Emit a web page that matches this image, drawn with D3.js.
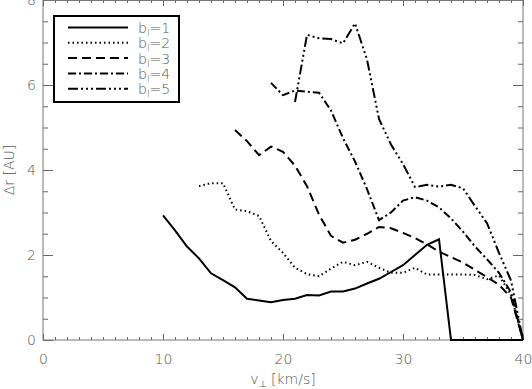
<!DOCTYPE html>
<html>
<head>
<meta charset="utf-8">
<script src="https://cdn.jsdelivr.net/npm/d3@7"></script>
<style>
  body { margin: 0; background: #fff; }
  svg { display: block; }
  .tick text { font-family: "DejaVu Sans", sans-serif; font-weight: 200; fill: #555; font-size: 14px; }
  .lbl { font-family: "DejaVu Sans", sans-serif; font-weight: 200; fill: #555; font-size: 14px; }
</style>
</head>
<body>
<svg width="532" height="389"></svg>
<script>
// v_perp [km/s] and delta r [AU], one pair of arrays per b value
const v1 = [10, 11, 12, 13, 14, 15, 16, 17, 18, 19, 20, 21, 22, 23, 24, 25, 26, 27, 28, 29, 30, 31, 32, 33, 34, 35, 36, 37, 38, 39, 40];
const dr1 = [2.93, 2.58, 2.2, 1.92, 1.57, 1.41, 1.24, 0.97, 0.93, 0.89, 0.94, 0.97, 1.06, 1.05, 1.14, 1.14, 1.21, 1.33, 1.44, 1.6, 1.76, 2.0, 2.24, 2.37, 0, 0, 0, 0, 0, 0, 0];

const v2 = [13, 14, 15, 16, 17, 18, 19, 20, 21, 22, 23, 24, 25, 26, 27, 28, 29, 30, 31, 32, 33, 34, 35, 36, 37, 38, 39, 40];
const dr2 = [3.62, 3.69, 3.69, 3.07, 3.03, 2.92, 2.33, 2.05, 1.7, 1.55, 1.5, 1.68, 1.84, 1.76, 1.84, 1.7, 1.58, 1.58, 1.7, 1.54, 1.54, 1.54, 1.54, 1.53, 1.43, 1.52, 1.06, 0];

const v3 = [16, 17, 18, 19, 20, 21, 22, 23, 24, 25, 26, 27, 28, 29, 30, 31, 32, 33, 34, 35, 36, 37, 38, 39, 40];
const dr3 = [4.94, 4.68, 4.35, 4.55, 4.43, 4.1, 3.62, 2.95, 2.45, 2.29, 2.36, 2.5, 2.66, 2.63, 2.52, 2.4, 2.25, 2.08, 1.95, 1.82, 1.65, 1.48, 1.3, 1.0, 0];

const v4 = [19, 20, 21, 22, 23, 24, 25, 26, 27, 28, 29, 30, 31, 32, 33, 34, 35, 36, 37, 38, 39, 40];
const dr4 = [6.05, 5.76, 5.87, 5.84, 5.82, 5.4, 4.75, 4.2, 3.55, 2.82, 3.0, 3.28, 3.36, 3.28, 3.12, 2.86, 2.55, 2.2, 1.9, 1.58, 1.12, 0];

const v5 = [21, 22, 23, 24, 25, 26, 27, 28, 29, 30, 31, 32, 33, 34, 35, 36, 37, 38, 39, 40];
const dr5 = [5.6, 7.18, 7.1, 7.08, 6.98, 7.45, 6.6, 5.2, 4.6, 4.14, 3.6, 3.65, 3.61, 3.65, 3.57, 3.15, 2.75, 2.05, 1.4, 0];

const bLabels = ['1', '2', '3', '4', '5'];
const xMajor = [0, 10, 20, 30, 40];
const yMajor = [0, 2, 4, 6, 8];

const dashes = [null, '1.5,3', '9,5', '8,3,2,3', '10,3,2,3,2,3,2,3'];

const svg = d3.select('svg');
const plotL = 43, plotR = 523, plotT = 0, plotB = 340;

const x = d3.scaleLinear().domain([0, 40]).range([plotL, plotR]);
const y = d3.scaleLinear().domain([0, 8]).range([plotB, plotT]);

const xMinor = d3.range(0, 41, 1).filter(v => v % 10 !== 0);
const yMinor = d3.range(0, 8.01, 0.5).filter(v => v % 2 !== 0);

function styleAxis(g) {
  g.select('.domain').remove();
  g.selectAll('.tick line').attr('stroke', '#666').attr('stroke-width', 1);
}

// bottom
svg.append('g').attr('transform', `translate(0,${plotB})`)
  .call(d3.axisBottom(x).tickValues(xMajor).tickSizeInner(-6).tickSizeOuter(0).tickPadding(14).tickFormat(d3.format('d')))
  .call(styleAxis);
svg.append('g').attr('transform', `translate(0,${plotB})`)
  .call(d3.axisBottom(x).tickValues(xMinor).tickSizeInner(-3).tickSizeOuter(0).tickFormat(''))
  .call(styleAxis);
// top
svg.append('g').attr('transform', `translate(0,${plotT})`)
  .call(d3.axisTop(x).tickValues(xMajor).tickSizeInner(-6).tickSizeOuter(0).tickFormat(''))
  .call(styleAxis);
svg.append('g').attr('transform', `translate(0,${plotT})`)
  .call(d3.axisTop(x).tickValues(xMinor).tickSizeInner(-3).tickSizeOuter(0).tickFormat(''))
  .call(styleAxis);
// left
svg.append('g').attr('transform', `translate(${plotL},0)`)
  .call(d3.axisLeft(y).tickValues(yMajor).tickSizeInner(-10).tickSizeOuter(0).tickPadding(7).tickFormat(d3.format('d')))
  .call(styleAxis);
svg.append('g').attr('transform', `translate(${plotL},0)`)
  .call(d3.axisLeft(y).tickValues(yMinor).tickSizeInner(-5).tickSizeOuter(0).tickFormat(''))
  .call(styleAxis);
// right
svg.append('g').attr('transform', `translate(${plotR},0)`)
  .call(d3.axisRight(y).tickValues(yMajor).tickSizeInner(-10).tickSizeOuter(0).tickFormat(''))
  .call(styleAxis);
svg.append('g').attr('transform', `translate(${plotR},0)`)
  .call(d3.axisRight(y).tickValues(yMinor).tickSizeInner(-5).tickSizeOuter(0).tickFormat(''))
  .call(styleAxis);

// frame
svg.append('rect')
  .attr('x', plotL).attr('y', plotT + 0.5)
  .attr('width', plotR - plotL).attr('height', plotB - plotT - 0.5)
  .attr('fill', 'none').attr('stroke', '#777').attr('stroke-width', 1);

// axis titles
const xt = svg.append('text').attr('class', 'lbl')
  .attr('x', x(20)).attr('y', 384).attr('text-anchor', 'middle');
xt.append('tspan').text('v');
xt.append('tspan').attr('font-size', 9).attr('dy', 3).text('\u22a5');
xt.append('tspan').attr('dy', -3).text(' [km/s]');

svg.append('text').attr('class', 'lbl')
  .attr('transform', `translate(14,${y(4)}) rotate(-90)`)
  .attr('text-anchor', 'middle')
  .text('\u0394r [AU]');

// curves
const series = [[v1, dr1], [v2, dr2], [v3, dr3], [v4, dr4], [v5, dr5]];
const line = d3.line().x(d => x(d[0])).y(d => y(d[1]));

series.forEach(([vs, ds], i) => {
  const pts = vs.map((v, j) => [v, ds[j]]);
  svg.append('path')
    .datum(pts)
    .attr('d', line)
    .attr('fill', 'none')
    .attr('stroke', '#000')
    .attr('stroke-width', 2)
    .attr('stroke-dasharray', dashes[i]);
});

// legend
const lg = svg.append('g');
lg.append('rect')
  .attr('x', 54).attr('y', 16).attr('width', 125).attr('height', 86)
  .attr('fill', '#fff').attr('stroke', '#000').attr('stroke-width', 2);

bLabels.forEach((b, i) => {
  const ly = 27.5 + i * 15.3;
  lg.append('line')
    .attr('x1', 68).attr('x2', 128).attr('y1', ly).attr('y2', ly)
    .attr('stroke', '#000').attr('stroke-width', 2)
    .attr('stroke-dasharray', dashes[i]);
  const t = lg.append('text').attr('class', 'lbl')
    .attr('x', 138).attr('y', ly + 5.5).attr('font-size', 15);
  t.append('tspan').text('b');
  t.append('tspan').attr('font-size', 9).attr('dy', 3).text('I');
  t.append('tspan').attr('dy', -3).text('=' + b);
});
</script>
</body>
</html>
